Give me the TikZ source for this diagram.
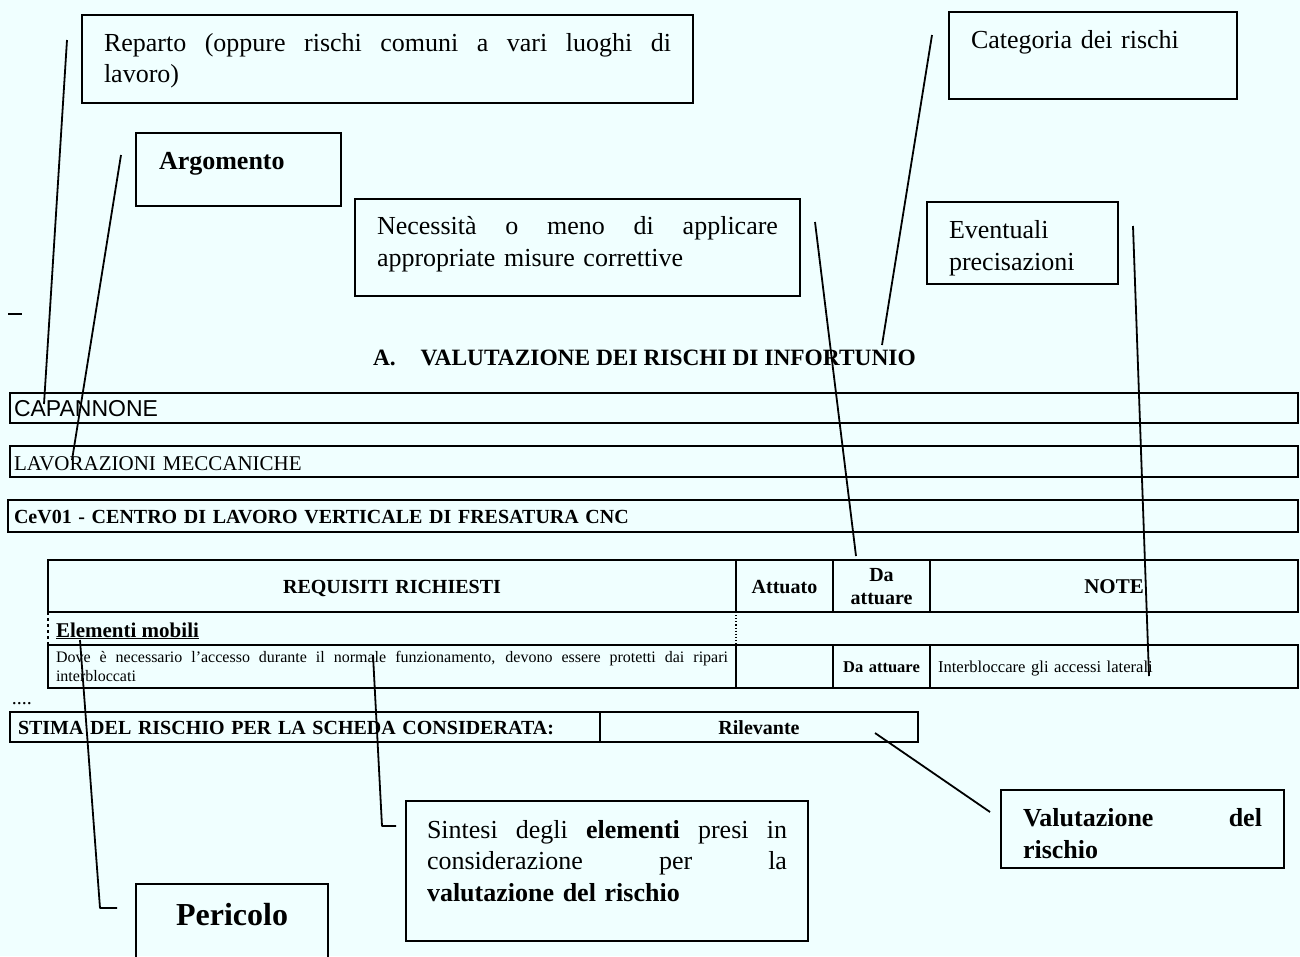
\documentclass[tikz,border=0pt]{standalone}
\usepackage{fontspec}
\setmainfont{Liberation Serif}
\newfontfamily\arialfam{Liberation Sans}
\definecolor{bgcol}{RGB}{240,255,255}
\newcommand{\fs}[2]{\fontsize{#1}{#2}\selectfont}
\newcommand{\jline}[2]{\leavevmode\hbox to #1{\spaceskip=0.25em plus 1fil\relax #2}}
\tikzset{
  callout/.style={draw, line width=1.8pt, inner ysep=0pt, outer sep=0pt, anchor=base west, align=left},
  cell/.style={draw, line width=1.5pt, inner sep=0pt, outer sep=0pt, anchor=base west, align=center},
  plain/.style={inner sep=0pt, outer sep=0pt, anchor=base west},
  conn/.style={line width=1.8pt, line join=round}
}
\begin{document}
\begin{tikzpicture}[x=1pt, y=-1pt]
\path[use as bounding box, fill=bgcol] (0,0) rectangle (1300,956);
\clip (0,0) rectangle (1300,956);

% callout boxes
\node[callout, font=\fs{26}{31}, inner xsep=22pt, text width=567pt, text height=36pt, text depth=52pt] (rep) at (82,51)
  {\jline{567pt}{Reparto (oppure rischi comuni a vari luoghi di}\\lavoro)};
\node[callout, font=\fs{26}{31}, inner xsep=23pt, text width=159pt, text height=36pt, text depth=37pt] (arg) at (136,169)
  {\textbf{Argomento}};
\node[callout, font=\fs{26}{32}, inner xsep=22pt, text width=401pt, text height=35pt, text depth=62pt] (nec) at (355,234)
  {\jline{401pt}{Necessità o meno di applicare}\\appropriate misure correttive};
\node[callout, font=\fs{26}{31}, inner xsep=22pt, text width=244pt, text height=36pt, text depth=51pt] (cat) at (949,48)
  {Categoria dei rischi};
\node[callout, font=\fs{26}{32}, inner xsep=22pt, text width=147pt, text height=36pt, text depth=46pt] (evt) at (927,238)
  {Eventuali\\precisazioni};
\node[callout, font=\fs{26}{31.5}, inner xsep=21pt, text width=360pt, text height=37pt, text depth=103pt] (sin) at (406,838)
  {\jline{360pt}{Sintesi degli \textbf{elementi} presi in}\\\jline{360pt}{considerazione per la}\\\textbf{valutazione del rischio}};
\node[callout, font=\fs{26}{32}\bfseries, inner xsep=22pt, text width=239pt, text height=36pt, text depth=42pt] (val) at (1001,826)
  {\jline{239pt}{Valutazione del}\\rischio};
\node[callout, font=\fs{32}{36}\bfseries, inner xsep=0pt, text width=192pt, text height=41pt, text depth=40pt, align=center] (per) at (136,925)
  {Pericolo};

% stray marks
\draw[line width=1.5pt] (8,314) -- (22,314);
\node[plain, font=\fs{20}{22}] (dots) at (12,704) {....};

% title
\node[plain, font=\fs{23.4}{26}\bfseries] (title) at (373,365) {A.\hspace*{25pt}VALUTAZIONE DEI RISCHI DI INFORTUNIO};

% top rows
\node[cell, font=\fs{23}{26}\arialfam, inner xsep=4pt, text width=1280pt, text height=23pt, text depth=7pt, align=left] (cap) at (10,416)
  {CAPANNONE};
\node[cell, font=\fs{21}{24}, inner xsep=4pt, text width=1280pt, text height=24pt, text depth=7pt, align=left] (lav) at (10,470)
  {LAVORAZIONI MECCANICHE};
\node[cell, font=\fs{20}{24}\bfseries, inner xsep=6pt, text width=1278pt, text height=23pt, text depth=9pt, align=left] (cev) at (8,523)
  {CeV01 - CENTRO DI LAVORO VERTICALE DI FRESATURA CNC};

% table header
\node[cell, font=\fs{20}{23}\bfseries, text width=688pt, text height=33pt, text depth=19pt] (req) at (48,593)
  {REQUISITI RICHIESTI};
\node[cell, font=\fs{20}{23}\bfseries, text width=97pt, text height=33pt, text depth=19pt] (att) at (736,593)
  {Attuato};
\node[cell, font=\fs{20}{23}\bfseries, text width=97pt, text height=21pt, text depth=31pt] (daa) at (833,581)
  {Da\\attuare};
\node[cell, font=\fs{21}{23}\bfseries, text width=368pt, text height=33pt, text depth=19pt] (note) at (930,593)
  {NOTE};

% row: Elementi mobili
\node[plain, font=\fs{21}{24}\bfseries] (elem) at (56,637) {\underline{Elementi mobili}};
\draw[line width=1.2pt, dashed] (req.south west) -- (48,645);
\draw[line width=1.1pt, dotted] (att.south west) -- (736,645);

% row: requirement
\node[cell, font=\fs{16}{19}, inner xsep=8pt, text width=672pt, text height=17pt, text depth=26pt, align=left] (dove) at (48,662)
  {\jline{672pt}{Dove è necessario l'accesso durante il normale funzionamento, devono essere protetti dai ripari}\\interbloccati};
\node[cell, text width=97pt, text height=27pt, text depth=16pt] (att2) at (736,672) {};
\node[cell, font=\fs{16.5}{19}\bfseries, text width=97pt, text height=27pt, text depth=16pt] (daa2) at (833,672)
  {Da attuare};
\node[cell, font=\fs{16.6}{19}, inner xsep=8pt, text width=352pt, text height=27pt, text depth=16pt, align=left] (note2) at (930,672)
  {Interbloccare gli accessi laterali};

% stima row
\node[cell, font=\fs{20}{23}\bfseries, inner xsep=8pt, text width=574pt, text height=22pt, text depth=8pt, align=left] (stima) at (10,734)
  {STIMA DEL RISCHIO PER LA SCHEDA CONSIDERATA:};
\node[cell, font=\fs{20}{23}\bfseries, text width=318pt, text height=22pt, text depth=8pt] (ril) at (600,734)
  {Rilevante};

% connector end points
\coordinate (c1a) at (67,40);   \coordinate (c1b) at (44,404);
\coordinate (c2a) at (121,155); \coordinate (c2b) at (72,460);
\coordinate (c3a) at (932,35);  \coordinate (c3b) at (882,345);
\coordinate (c4a) at (815,222); \coordinate (c4b) at (856,556);
\coordinate (c5a) at (1133,226);\coordinate (c5b) at (1149,676);
\coordinate (c6a) at (80,640);  \coordinate (c6b) at (100,908); \coordinate (c6c) at (117,908);
\coordinate (c7a) at (373,655); \coordinate (c7b) at (382,826); \coordinate (c7c) at (396,826);
\coordinate (c8a) at (875,733); \coordinate (c8b) at (990,812);

\draw[conn] (c1a) -- (c1b);
\draw[conn] (c2a) -- (c2b);
\draw[conn] (c3a) -- (c3b);
\draw[conn] (c4a) -- (c4b);
\draw[conn] (c5a) -- (c5b);
\draw[conn] (c6a) -- (c6b) -- (c6c);
\draw[conn] (c7a) -- (c7b) -- (c7c);
\draw[conn] (c8a) -- (c8b);
\end{tikzpicture}
\end{document}
